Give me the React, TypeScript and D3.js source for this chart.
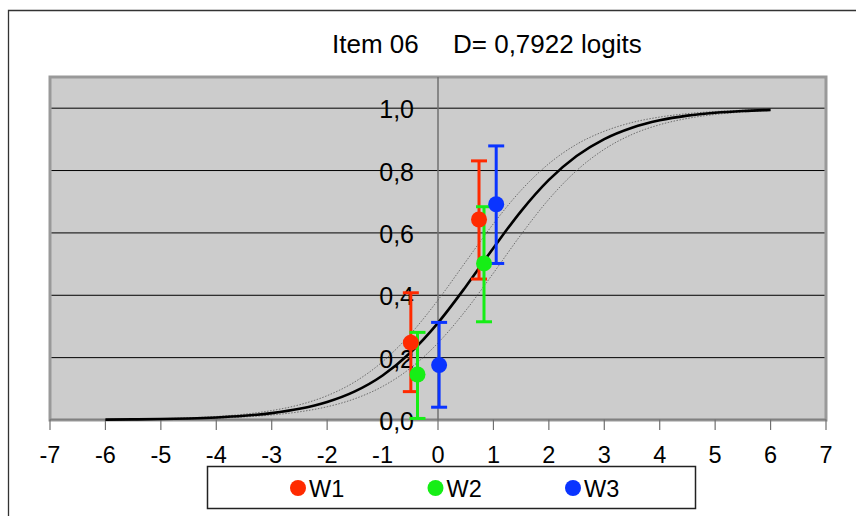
import React from "react";
import * as d3 from "d3";

// ---- data ----
const TITLE_ITEM = "Item 06";
const TITLE_D = "D= 0,7922 logits";
const X_TICKS = [-7, -6, -5, -4, -3, -2, -1, 0, 1, 2, 3, 4, 5, 6, 7];
const Y_TICKS = [0, 0.2, 0.4, 0.6, 0.8, 1.0];

// characteristic curve sampled along the ability axis
const CURVE_X = [-6, -5.5, -5, -4.5, -4, -3.5, -3, -2.5, -2, -1.5, -1, -0.5, 0, 0.5, 1, 1.5, 2, 2.5, 3, 3.5, 4, 4.5, 5, 5.5, 6];
const CURVE_P = [0.0011, 0.0019, 0.003, 0.005, 0.0082, 0.0135, 0.0221, 0.0358, 0.0578, 0.0918, 0.1428, 0.2155, 0.3117, 0.4275, 0.5518, 0.67, 0.77, 0.8466, 0.901, 0.9375, 0.9611, 0.9761, 0.9853, 0.9911, 0.9946];
const UPPER_P = [0.0016, 0.0026, 0.0042, 0.0069, 0.0113, 0.0185, 0.0302, 0.0488, 0.078, 0.1224, 0.187, 0.2749, 0.3846, 0.5075, 0.6295, 0.7369, 0.822, 0.884, 0.926, 0.954, 0.9715, 0.9825, 0.9893, 0.9935, 0.9961];
const LOWER_P = [0.0008, 0.0013, 0.0022, 0.0036, 0.006, 0.0098, 0.0161, 0.0262, 0.0425, 0.0682, 0.1076, 0.1659, 0.247, 0.351, 0.4713, 0.595, 0.708, 0.7998, 0.8682, 0.9157, 0.947, 0.9672, 0.9799, 0.9877, 0.9925];

const SERIES = ["W1", "W2", "W3"];
const COLORS = ["#ff2a00", "#16ee16", "#0a34ff"];
const W1_X = [-0.49, 0.74];
const W1_P = [0.248, 0.643];
const W1_LO = [0.091, 0.452];
const W1_HI = [0.408, 0.831];
const W2_X = [-0.37, 0.83];
const W2_P = [0.146, 0.502];
const W2_LO = [0.005, 0.315];
const W2_HI = [0.281, 0.684];
const W3_X = [0.02, 1.05];
const W3_P = [0.176, 0.692];
const W3_LO = [0.041, 0.502];
const W3_HI = [0.313, 0.879];

const POINTS = [
  { x: W1_X, p: W1_P, lo: W1_LO, hi: W1_HI },
  { x: W2_X, p: W2_P, lo: W2_LO, hi: W2_HI },
  { x: W3_X, p: W3_P, lo: W3_LO, hi: W3_HI },
];

const FONT = "'Liberation Sans', Arial, sans-serif";

export default function App() {
  const W = 856;
  const H = 516;
  const left = 50, right = 826, top = 77, bottom = 420;
  const x = d3.scaleLinear().domain([-7, 7]).range([left, right]);
  const y = d3.scaleLinear().domain([0, 1.1]).range([bottom, top]);

  const line = d3
    .line<number>()
    .x((_, i) => x(CURVE_X[i]))
    .y((d) => y(d))
    .curve(d3.curveMonotoneX);

  const fmt = (v: number) => v.toFixed(1).replace(".", ",");
  const cap = 8;

  return (
    <svg width={W} height={H} style={{ position: "absolute", left: 0, top: 0, background: "#fff", overflow: "hidden" }}>
      {/* outer chart frame (only top and left edges are inside the picture) */}
      <path d={`M${W + 10},10.5 H8.5 V${H + 10}`} fill="none" stroke="#333" strokeWidth={1.3} />
      <text x={332} y={53} fontFamily={FONT} fontSize={26} fill="#000">{TITLE_ITEM}</text>
      <text x={453} y={53} fontFamily={FONT} fontSize={26} fill="#000">{TITLE_D}</text>

      {/* plot area */}
      <rect x={left} y={top} width={right - left} height={bottom - top} fill="#cccccc" stroke="#999" strokeWidth={3} />
      {Y_TICKS.filter((t) => t > 0).map((t) => (
        <line key={t} x1={left + 1.5} x2={right - 1.5} y1={y(t)} y2={y(t)} stroke="#000" strokeWidth={1} />
      ))}
      {/* x axis */}
      <line x1={left} x2={right} y1={bottom - 0.5} y2={bottom - 0.5} stroke="#808080" strokeWidth={1.5} />
      {X_TICKS.map((t) => (
        <g key={t}>
          <line x1={x(t)} x2={x(t)} y1={bottom - 0.5} y2={bottom + 10} stroke="#707070" strokeWidth={1.2} />
          <text x={x(t)} y={463} textAnchor="middle" fontFamily={FONT} fontSize={23.5} fill="#000">
            {t}
          </text>
        </g>
      ))}
      {/* y axis at x=0 */}
      <line x1={x(0)} x2={x(0)} y1={top} y2={bottom} stroke="#707070" strokeWidth={1.5} />

      {/* curves */}
      <path d={line(UPPER_P) || ""} fill="none" stroke="#555" strokeWidth={0.8} strokeDasharray="1.5,1.5" />
      <path d={line(LOWER_P) || ""} fill="none" stroke="#555" strokeWidth={0.8} strokeDasharray="1.5,1.5" />
      <path d={line(CURVE_P) || ""} fill="none" stroke="#000" strokeWidth={2.6} />

      {/* y tick labels */}
      {Y_TICKS.map((t) => (
        <text key={t} x={x(0) - 24} y={y(t) + 10} textAnchor="end" fontFamily={FONT} fontSize={25} fill="#000">
          {fmt(t)}
        </text>
      ))}

      {/* error bars */}
      {POINTS.map((s, si) =>
        s.x.map((xv, i) => (
          <g key={`e${si}-${i}`} stroke={COLORS[si]} strokeWidth={3}>
            <line x1={x(xv)} x2={x(xv)} y1={y(s.lo[i])} y2={y(s.hi[i])} />
            <line x1={x(xv) - cap} x2={x(xv) + cap} y1={y(s.lo[i])} y2={y(s.lo[i])} />
            <line x1={x(xv) - cap} x2={x(xv) + cap} y1={y(s.hi[i])} y2={y(s.hi[i])} />
          </g>
        ))
      )}
      {/* markers */}
      {POINTS.map((s, si) =>
        s.x.map((xv, i) => <circle key={`m${si}-${i}`} cx={x(xv)} cy={y(s.p[i])} r={8} fill={COLORS[si]} />)
      )}

      {/* legend */}
      <rect x={207.5} y={466.5} width={488} height={42} fill="#fff" stroke="#222" strokeWidth={1.5} />
      {SERIES.map((name, i) => (
        <g key={name}>
          <circle cx={298 + i * 137.5} cy={488} r={8} fill={COLORS[i]} />
          <text x={309 + i * 137.5} y={497} fontFamily={FONT} fontSize={23.5} fill="#000">
            {name}
          </text>
        </g>
      ))}
    </svg>
  );
}
